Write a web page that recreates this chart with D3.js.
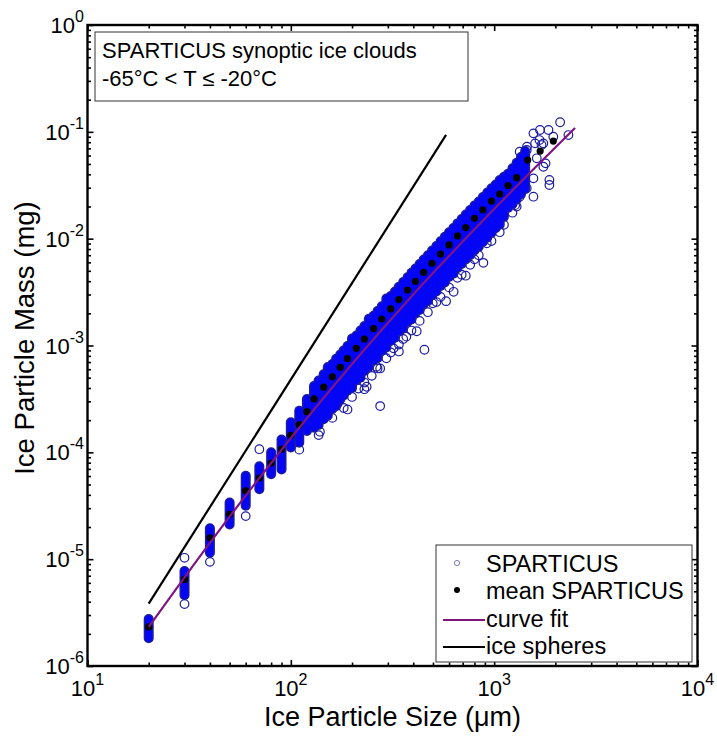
<!DOCTYPE html>
<html><head><meta charset="utf-8">
<script src="https://cdn.jsdelivr.net/npm/d3@7"></script>
<style>html,body{margin:0;padding:0;background:#fff;} svg{display:block;font-family:"Liberation Sans",Arial,sans-serif;}</style>
</head><body><svg id="c" width="717" height="736"></svg>
<script>
// ---------------- data ----------------
// SPARTICUS particle sizes (um) and range of the dense core of masses (mg) in each size bin
const sizeBins = [20,30,40,50,60,70,80,90,100,110,120,130,137,145,152,160,167,175,182,190,200,210,220,230,242,255,267,280,295,310,325,340,357,375,392,410,430,450,472,495,520,545,572,600,630,660,692,725,762,800,840,880,925,970,1017,1065,1117,1170,1230,1290,1355,1420];
const massHigh = [2.75e-6,7.76e-6,1.95e-5,3.39e-5,6.03e-5,7.41e-5,1.0e-4,1.32e-4,1.91e-4,2.45e-4,3.16e-4,4.17e-4,4.7e-4,5.37e-4,6.3e-4,6.71e-4,7.5e-4,8.24e-4,9.0e-4,9.91e-4,1.16e-3,1.24e-3,1.38e-3,1.52e-3,1.78e-3,1.90e-3,2.10e-3,2.33e-3,2.75e-3,2.90e-3,3.20e-3,3.54e-3,3.93e-3,4.36e-3,4.80e-3,5.26e-3,5.80e-3,6.38e-3,7.00e-3,7.76e-3,8.55e-3,9.46e-3,1.04e-2,1.15e-2,1.26e-2,1.39e-2,1.53e-2,1.68e-2,1.85e-2,2.04e-2,2.23e-2,2.45e-2,2.70e-2,2.96e-2,3.22e-2,3.54e-2,3.80e-2,4.05e-2,4.55e-2,5.13e-2,5.8e-2,6.61e-2];
const massLow  = [1.82e-6,4.6e-6,1.15e-5,2.11e-5,3.16e-5,4.52e-5,6.24e-5,6.92e-5,1.11e-4,1.23e-4,1.585e-4,1.70e-4,1.80e-4,2.04e-4,2.2e-4,2.55e-4,2.7e-4,3.13e-4,3.4e-4,3.77e-4,4.0e-4,4.71e-4,5.0e-4,5.77e-4,6.3e-4,7.23e-4,7.6e-4,8.87e-4,9.6e-4,1.10e-3,1.18e-3,1.35e-3,1.45e-3,1.66e-3,1.75e-3,2.00e-3,2.15e-3,2.43e-3,2.60e-3,2.95e-3,3.20e-3,3.60e-3,3.9e-3,4.38e-3,4.7e-3,5.30e-3,5.8e-3,6.38e-3,7.0e-3,7.74e-3,8.4e-3,9.33e-3,1.02e-2,1.13e-2,1.25e-2,1.35e-2,1.6e-2,1.94e-2,2.1e-2,2.32e-2,2.6e-2,2.91e-2];
// individual SPARTICUS particles outside the dense core
const outSizes = [30,30,40,60,70,110,139,190,275,275,236,215,454,416,499,632,885,170,150,171,264,320,370,1030,920,1268,1560,1869,1869,1746,1560,1680,1850,2110,2318,1670,1710,1450,1335,1365,1954,1589,1746,1446,1620,1790,1560,1446,1335,
  137,160,182,200,230,250,267,295,310,340,357,392,430,472,520,545,600,660,692,762,800,840,970,1065,1117,1230,1290,230,340,580,725];
const outMass  = [1.03e-5,3.8e-6,9.44e-6,2.53e-5,1.07e-4,1.06e-4,1.56e-4,2.52e-4,2.71e-4,6.10e-4,4.11e-4,3.96e-4,9.12e-4,1.36e-3,2.48e-3,3.18e-3,5.94e-3,2.87e-4,3.56e-4,2.97e-4,6.32e-4,9.40e-4,1.21e-3,1.34e-2,9.04e-3,2.06e-2,2.47e-2,3.54e-2,3.18e-2,4.71e-2,9.68e-2,0.104,0.104,0.123,0.0933,0.0838,0.0752,0.0726,0.0651,0.0585,0.090,0.078,0.078,0.0676,0.0565,0.0507,0.0367,0.0296,0.0247,
  1.45e-4,2.1e-4,2.6e-4,3.3e-4,4.5e-4,5.2e-4,6.1e-4,7.6e-4,8.6e-4,1.02e-3,1.15e-3,1.38e-3,1.70e-3,2.05e-3,2.55e-3,2.85e-3,3.5e-3,4.3e-3,4.6e-3,5.7e-3,6.4e-3,7.0e-3,9.5e-3,1.15e-2,1.35e-2,1.75e-2,2.0e-2,3.9e-4,8.8e-4,2.6e-3,4.5e-3];
// mean SPARTICUS
const meanSizes = [20,30,40,50,60,70,80,90,100,110,120,130,145,160,175,190,210,230,255,280,310,340,375,410,450,495,545,600,660,725,800,880,970,1065,1170,1290,1462,1683,1954];
const meanMass  = [2.32e-6,6.46e-6,1.585e-5,2.63e-5,4.37e-5,5.75e-5,7.94e-5,1.07e-4,1.445e-4,1.82e-4,2.40e-4,3.16e-4,4.07e-4,5.09e-4,6.25e-4,7.52e-4,9.40e-4,1.15e-3,1.44e-3,1.77e-3,2.20e-3,2.69e-3,3.30e-3,3.99e-3,4.84e-3,5.89e-3,7.18e-3,8.73e-3,1.06e-2,1.27e-2,1.55e-2,1.86e-2,2.25e-2,2.62e-2,3.14e-2,3.72e-2,5.44e-2,6.6e-2,8.2e-2];
// curve fit
const fitSizes = [20,40,70,100,200,400,1000,2500];
const fitMass  = [2.317e-6,1.422e-5,5.754e-5,1.358e-4,6.699e-4,3.006e-3,1.892e-2,0.1086];
// ice spheres
const sphereSizes = [20,580];
const sphereMass  = [3.84e-6,0.0937];
// ticks
const xTickExps = ["1","2","3","4"];
const yTickExps = ["0","-1","-2","-3","-4","-5","-6"];
const legendLabels = ["SPARTICUS","mean SPARTICUS","curve fit","ice spheres"];
const noteLines = ["SPARTICUS synoptic ice clouds","-65\u00B0C < T \u2264 -20\u00B0C"];

// ---------------- drawing ----------------
const M = {l:87.5, r:697.5, t:25, b:666};
const x = d3.scaleLog().domain([10,1e4]).range([M.l,M.r]);
const y = d3.scaleLog().domain([1e-6,1]).range([M.b,M.t]);
const svg = d3.select("#c");
const dark = "#1c1ca0", bright = "#0505f5", purple = "#7f1580";

svg.append("defs").append("clipPath").attr("id","clip")
  .append("rect").attr("x",M.l).attr("y",M.t).attr("width",M.r-M.l).attr("height",M.b-M.t);
const plot = svg.append("g").attr("clip-path","url(#clip)");

// individual circles (drawn first, partly covered by the dense core)
plot.append("g").selectAll("circle").data(outSizes.map((d,i)=>[d,outMass[i]])).join("circle")
  .attr("cx",p=>x(p[0])).attr("cy",p=>y(p[1])).attr("r",4.3)
  .attr("fill","none").attr("stroke",dark).attr("stroke-width",1.2);
// dense core: outline pass then fill pass
const core = sizeBins.map((d,i)=>({d, lo:massLow[i], hi:massHigh[i]}));
plot.append("g").selectAll("line").data(core).join("line")
  .attr("x1",c=>x(c.d)).attr("x2",c=>x(c.d)).attr("y1",c=>y(c.lo)).attr("y2",c=>y(c.hi))
  .attr("stroke",dark).attr("stroke-width",10).attr("stroke-linecap","round");
plot.append("g").selectAll("line").data(core).join("line")
  .attr("x1",c=>x(c.d)).attr("x2",c=>x(c.d)).attr("y1",c=>y(c.lo)).attr("y2",c=>y(c.hi))
  .attr("stroke",bright).attr("stroke-width",7).attr("stroke-linecap","round");
// means
plot.append("g").selectAll("circle").data(meanSizes.map((d,i)=>[d,meanMass[i]])).join("circle")
  .attr("cx",p=>x(p[0])).attr("cy",p=>y(p[1])).attr("r",3.6).attr("fill","#000");
// curve fit
const line = d3.line().x(p=>x(p[0])).y(p=>y(p[1])).curve(d3.curveMonotoneX);
plot.append("path").datum(fitSizes.map((d,i)=>[d,fitMass[i]])).attr("d",line)
  .attr("fill","none").attr("stroke",purple).attr("stroke-width",2.2);
plot.append("path").datum(sphereSizes.map((d,i)=>[d,sphereMass[i]])).attr("d",d3.line().x(p=>x(p[0])).y(p=>y(p[1])))
  .attr("fill","none").attr("stroke","#000").attr("stroke-width",2.2);

// axes (ticks inward on all four sides)
const isMajor = v => Math.abs(Math.log10(v) - Math.round(Math.log10(v))) < 1e-9;
const xAll = x.ticks(), yAll = y.ticks();
function axisSet(axisFn, scale, vals, size, tr){
  const g = svg.append("g").attr("transform",tr).call(axisFn(scale).tickValues(vals).tickSize(size).tickFormat(""));
  g.select(".domain").remove();
  g.selectAll(".tick line").attr("stroke","#000").attr("stroke-width",1.6);
}
const xMin = xAll.filter(v=>!isMajor(v)), xMaj = xAll.filter(isMajor);
const yMin = yAll.filter(v=>!isMajor(v)), yMaj = yAll.filter(isMajor);
axisSet(d3.axisBottom, x, xMin, -3.5, `translate(0,${M.b})`);
axisSet(d3.axisBottom, x, xMaj, -6, `translate(0,${M.b})`);
axisSet(d3.axisTop, x, xMin, -3.5, `translate(0,${M.t})`);
axisSet(d3.axisTop, x, xMaj, -6, `translate(0,${M.t})`);
axisSet(d3.axisLeft, y, yMin, -3.5, `translate(${M.l},0)`);
axisSet(d3.axisLeft, y, yMaj, -6, `translate(${M.l},0)`);
axisSet(d3.axisRight, y, yMin, -3.5, `translate(${M.r},0)`);
axisSet(d3.axisRight, y, yMaj, -6, `translate(${M.r},0)`);
svg.append("rect").attr("x",M.l).attr("y",M.t).attr("width",M.r-M.l).attr("height",M.b-M.t)
  .attr("fill","none").attr("stroke","#000").attr("stroke-width",2.4);

// tick labels
xTickExps.forEach(e=>{
  const t = svg.append("text").attr("x",x(Math.pow(10,+e))).attr("y",696).attr("text-anchor","middle").attr("font-size",22);
  t.append("tspan").text("10");
  t.append("tspan").attr("dy",-11).attr("font-size",16).text(e);
});
yTickExps.forEach(e=>{
  const t = svg.append("text").attr("x",84).attr("y",y(Math.pow(10,+e))+8).attr("text-anchor","end").attr("font-size",22);
  t.append("tspan").text("10");
  t.append("tspan").attr("dy",-11).attr("font-size",16).text(e);
});

// axis titles
svg.append("text").attr("x",(M.l+M.r)/2).attr("y",726).attr("text-anchor","middle").attr("font-size",27)
  .text("Ice Particle Size (\u03BCm)");
svg.append("text").attr("transform",`translate(34,338) rotate(-90)`).attr("text-anchor","middle").attr("font-size",27.5)
  .text("Ice Particle Mass (mg)");

// annotation box
svg.append("rect").attr("x",95).attr("y",32).attr("width",373).attr("height",69).attr("fill","#fff").attr("stroke","#333").attr("stroke-width",1);
noteLines.forEach((s,i)=>svg.append("text").attr("x",102).attr("y",57.5+i*28.5).attr("font-size",22).text(s));

// legend
const lg = svg.append("g");
lg.append("rect").attr("x",436).attr("y",545).attr("width",256).attr("height",117).attr("fill","#fff").attr("stroke","#333").attr("stroke-width",1);
const rowY = [563,590,618,645];
legendLabels.forEach((s,i)=>lg.append("text").attr("x",486).attr("y",rowY[i]+8.5).attr("font-size",23.5).text(s));
lg.append("circle").attr("cx",457).attr("cy",rowY[0]).attr("r",2.6).attr("fill","none").attr("stroke","#7a7ab8").attr("stroke-width",1);
lg.append("circle").attr("cx",457).attr("cy",rowY[1]).attr("r",3).attr("fill","#000");
lg.append("line").attr("x1",443).attr("x2",485).attr("y1",rowY[2]+2).attr("y2",rowY[2]+2).attr("stroke",purple).attr("stroke-width",2);
lg.append("line").attr("x1",443).attr("x2",485).attr("y1",rowY[3]+2).attr("y2",rowY[3]+2).attr("stroke","#000").attr("stroke-width",2);
</script></body></html>
